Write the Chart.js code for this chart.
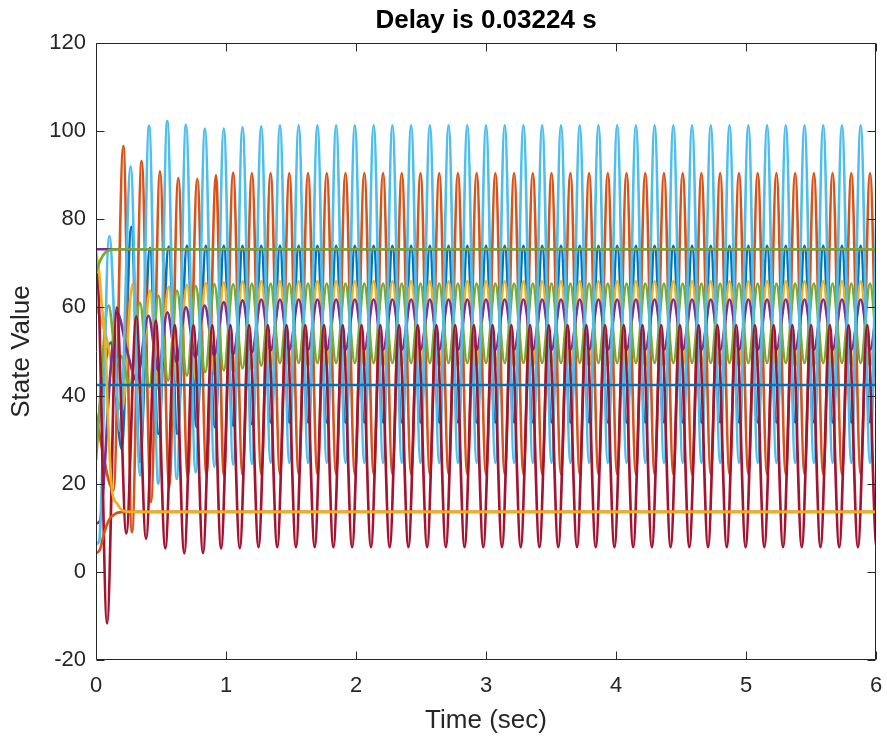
<!DOCTYPE html>
<html>
<head>
<meta charset="utf-8">
<style>
  html, body { margin: 0; padding: 0; background: #fff; }
</style>
</head>
<body>
<canvas id="chart" width="887" height="740"></canvas>
<script src="https://cdn.jsdelivr.net/npm/chart.js"></script>
<script>
// labels
const titleText = 'Delay is 0.03224 s';
const xTitle = 'Time (sec)';
const yTitle = 'State Value';
const xTicks = [0, 1, 2, 3, 4, 5, 6];
const yTicks = [-20, 0, 20, 40, 60, 80, 100, 120];

// times of the peaks / troughs once the oscillation has settled
const tA = [0.983,1.055,1.127,1.199,1.271,1.343,1.415,1.487,1.559,1.631,
  1.703,1.775,1.847,1.919,1.991,2.064,2.136,2.208,2.280,2.352,
  2.424,2.496,2.568,2.640,2.712,2.784,2.856,2.928,3.000,3.072,
  3.144,3.216,3.288,3.360,3.432,3.504,3.577,3.649,3.721,3.793,
  3.865,3.937,4.009,4.081,4.153,4.225,4.297,4.369,4.441,4.513,
  4.585,4.657,4.729,4.801,4.873,4.946,5.018,5.090,5.162,5.234,
  5.306,5.378,5.450,5.522,5.594,5.666,5.738,5.810,5.882,5.954,
  6.026,6.098];
// dark red runs a little ahead of the others
const tC = [0.962,1.034,1.106,1.178,1.250,1.322,1.394,1.466,1.538,1.610,
  1.682,1.754,1.826,1.898,1.970,2.043,2.115,2.187,2.259,2.331,
  2.403,2.475,2.547,2.619,2.691,2.763,2.835,2.907,2.979,3.051,
  3.123,3.195,3.267,3.339,3.411,3.483,3.556,3.628,3.700,3.772,
  3.844,3.916,3.988,4.060,4.132,4.204,4.276,4.348,4.420,4.492,
  4.564,4.636,4.708,4.780,4.852,4.925,4.997,5.069,5.141,5.213,
  5.285,5.357,5.429,5.501,5.573,5.645,5.717,5.789,5.861,5.933,
  6.005,6.077];

// start-up transients [t, value]
const x1Head = [[0,30.8],[0.115,52],[0.197,27.9],[0.272,78.3],[0.338,24.9],[0.415,73.5],[0.479,31.3],[0.56,73.8],[0.625,31.3],[0.70,74],[0.774,32.8],[0.845,74],[0.915,32.8]];
const x2Head = [[0,35],[0.135,18.5],[0.21,96.6],[0.277,9],[0.351,93.2],[0.423,15.8],[0.492,90.9],[0.563,19.2],[0.633,89.4],[0.706,21.4],[0.779,89.2],[0.85,21.9],[0.923,90]];
const x3Head = [[0,60.4],[0.08,53.2],[0.2,36.6],[0.282,65.3],[0.338,40.4],[0.415,63.8],[0.479,41.5],[0.56,64.7],[0.625,43],[0.70,65.1],[0.77,43.4],[0.845,65.5],[0.915,44.5]];
const x4Head = [[0,11],[0.03,11.5],[0.11,45],[0.162,58.9],[0.24,50],[0.313,43.4],[0.403,58.1],[0.48,45.7],[0.549,58.9],[0.62,47.6],[0.692,60],[0.765,48.7],[0.836,60.4],[0.91,49.1]];
const x5Head = [[0,25.3],[0.097,60.4],[0.16,47.6],[0.19,49],[0.26,42.3],[0.338,61.1],[0.41,41.9],[0.48,62.7],[0.555,43.4],[0.623,63.8],[0.70,44.5],[0.767,64.9],[0.84,45.3],[0.911,65.3]];
const x6Head = [[0,6.3],[0.025,7],[0.102,76.2],[0.185,32],[0.267,92],[0.338,21.9],[0.408,101.2],[0.479,20],[0.548,102.3],[0.621,21.1],[0.692,101.4],[0.766,22.6],[0.838,100.5],[0.91,23.8]];
const x7Head = [[0,67.8],[0.015,66],[0.085,-11.7],[0.16,60],[0.233,8.7],[0.31,58],[0.385,7.5],[0.46,57],[0.533,5.3],[0.606,56],[0.679,4.2],[0.75,56],[0.823,4.3],[0.895,56]];

// settled extremes, one value per entry of tA (x7 uses tC)
const x1 = [74.0,33.2,74.0,33.5,74.0,33.9,74.0,33.9,74.0,33.9,
  74.0,33.9,74.0,33.9,74.0,33.9,74.0,33.9,74.0,33.9,
  74.0,33.9,74.0,33.9,74.0,33.9,74.0,33.9,74.0,33.9,
  74.0,33.9,74.0,33.9,74.0,33.9,74.0,33.9,74.0,33.9,
  74.0,33.9,74.0,33.9,74.0,33.9,74.0,33.9,74.0,33.9,
  74.0,33.9,74.0,33.9,74.0,33.9,74.0,33.9,74.0,33.9,
  74.0,33.9,74.0,33.9,74.0,33.9,74.0,33.9,74.0,33.9,
  74.0,33.9];
const x2 = [21.9,90.6,22.0,90.5,22.2,90.5,22.2,90.5,22.2,90.5,
  22.2,90.5,22.2,90.5,22.2,90.5,22.2,90.5,22.2,90.5,
  22.2,90.5,22.2,90.5,22.2,90.5,22.2,90.5,22.2,90.5,
  22.2,90.5,22.2,90.5,22.2,90.5,22.2,90.5,22.2,90.5,
  22.2,90.5,22.2,90.5,22.2,90.5,22.2,90.5,22.2,90.5,
  22.2,90.5,22.2,90.5,22.2,90.5,22.2,90.5,22.2,90.5,
  22.2,90.5,22.2,90.5,22.2,90.5,22.2,90.5,22.2,90.5,
  22.2,90.5];
const x3 = [65.7,45.3,65.9,45.9,66.0,46.3,66.0,46.7,66.0,46.7,
  66.0,46.7,66.0,46.7,66.0,46.7,66.0,46.7,66.0,46.7,
  66.0,46.7,66.0,46.7,66.0,46.7,66.0,46.7,66.0,46.7,
  66.0,46.7,66.0,46.7,66.0,46.7,66.0,46.7,66.0,46.7,
  66.0,46.7,66.0,46.7,66.0,46.7,66.0,46.7,66.0,46.7,
  66.0,46.7,66.0,46.7,66.0,46.7,66.0,46.7,66.0,46.7,
  66.0,46.7,66.0,46.7,66.0,46.7,66.0,46.7,66.0,46.7,
  66.0,46.7];
const x4 = [61.2,49.4,61.6,49.8,61.8,50.2,61.8,50.4,61.8,50.4,
  61.8,50.4,61.8,50.4,61.8,50.4,61.8,50.4,61.8,50.4,
  61.8,50.4,61.8,50.4,61.8,50.4,61.8,50.4,61.8,50.4,
  61.8,50.4,61.8,50.4,61.8,50.4,61.8,50.4,61.8,50.4,
  61.8,50.4,61.8,50.4,61.8,50.4,61.8,50.4,61.8,50.4,
  61.8,50.4,61.8,50.4,61.8,50.4,61.8,50.4,61.8,50.4,
  61.8,50.4,61.8,50.4,61.8,50.4,61.8,50.4,61.8,50.4,
  61.8,50.4];
const x5 = [45.7,65.3,46.2,65.4,46.8,65.4,47.4,65.4,47.4,65.4,
  47.4,65.4,47.4,65.4,47.4,65.4,47.4,65.4,47.4,65.4,
  47.4,65.4,47.4,65.4,47.4,65.4,47.4,65.4,47.4,65.4,
  47.4,65.4,47.4,65.4,47.4,65.4,47.4,65.4,47.4,65.4,
  47.4,65.4,47.4,65.4,47.4,65.4,47.4,65.4,47.4,65.4,
  47.4,65.4,47.4,65.4,47.4,65.4,47.4,65.4,47.4,65.4,
  47.4,65.4,47.4,65.4,47.4,65.4,47.4,65.4,47.4,65.4,
  47.4,65.4];
const x6 = [100.6,24.3,100.9,24.5,101.1,24.7,101.3,24.7,101.3,24.7,
  101.3,24.7,101.3,24.7,101.3,24.7,101.3,24.7,101.3,24.7,
  101.3,24.7,101.3,24.7,101.3,24.7,101.3,24.7,101.3,24.7,
  101.3,24.7,101.3,24.7,101.3,24.7,101.3,24.7,101.3,24.7,
  101.3,24.7,101.3,24.7,101.3,24.7,101.3,24.7,101.3,24.7,
  101.3,24.7,101.3,24.7,101.3,24.7,101.3,24.7,101.3,24.7,
  101.3,24.7,101.3,24.7,101.3,24.7,101.3,24.7,101.3,24.7,
  101.3,24.7];
const x7 = [5.3,56,5.4,56,5.6,56,5.6,56,5.6,56,
  5.6,56,5.6,56,5.6,56,5.6,56,5.6,56,
  5.6,56,5.6,56,5.6,56,5.6,56,5.6,56,
  5.6,56,5.6,56,5.6,56,5.6,56,5.6,56,
  5.6,56,5.6,56,5.6,56,5.6,56,5.6,56,
  5.6,56,5.6,56,5.6,56,5.6,56,5.6,56,
  5.6,56,5.6,56,5.6,56,5.6,56,5.6,56,
  5.6,56];

// states that settle to a constant
const x8 = [[0,42.4],[6,42.4]];
const x9 = [[0,4.2],[0.03,5],[0.06,8.5],[0.1,11.8],[0.15,13.2],[0.22,13.6],[6,13.6]];
const x10 = [[0,72.8],[0.025,67.6],[0.046,60],[0.071,52.5],[0.095,33],[0.123,18.5],[0.162,15.5],[0.2,14],[0.26,13.6],[6,13.6]];
const x11 = [[0,73.2],[6,73.2]];
const x12 = [[0,67.9],[0.03,70.5],[0.07,72.4],[0.12,73.1],[0.2,73.2],[6,73.2]];

const colors = ['#0072BD','#D95319','#EDB120','#7E2F8E','#77AC30','#4DBEEE','#A2142F',
                '#0072BD','#D95319','#EDB120','#7E2F8E','#77AC30'];

function pairs(arr) { return arr.map(p => ({x: p[0], y: p[1]})); }
function series(head, t, v) { return pairs(head).concat(t.map((x, i) => ({x: x, y: v[i]}))); }

const allData = [
  series(x1Head, tA, x1), series(x2Head, tA, x2), series(x3Head, tA, x3),
  series(x4Head, tA, x4), series(x5Head, tA, x5), series(x6Head, tA, x6),
  series(x7Head, tC, x7),
  pairs(x8), pairs(x9), pairs(x10), pairs(x11), pairs(x12)
];

Chart.defaults.font.family = '"Liberation Sans", Arial, Helvetica, sans-serif';
Chart.defaults.color = '#262626';

const boxPlugin = {
  id: 'box',
  afterDatasetsDraw(chart) {
    const { ctx, chartArea: a, scales } = chart;
    const L = Math.round(a.left) + 0.5, R = Math.round(a.right) - 0.5;
    const T = Math.round(a.top) + 0.5, B = Math.round(a.bottom) - 0.5;
    ctx.save();
    ctx.strokeStyle = '#262626';
    ctx.lineWidth = 1;
    ctx.beginPath();
    ctx.rect(L, T, R - L, B - T);
    xTicks.forEach(v => {
      const px = Math.round(scales.x.getPixelForValue(v)) + 0.5;
      ctx.moveTo(px, B); ctx.lineTo(px, B - 8);
      ctx.moveTo(px, T); ctx.lineTo(px, T + 8);
    });
    yTicks.forEach(v => {
      const py = Math.round(scales.y.getPixelForValue(v)) + 0.5;
      ctx.moveTo(L, py); ctx.lineTo(L + 8, py);
      ctx.moveTo(R, py); ctx.lineTo(R - 8, py);
    });
    ctx.stroke();
    ctx.fillStyle = '#000';
    ctx.font = 'bold 26px "Liberation Sans", Arial, sans-serif';
    ctx.textAlign = 'center';
    ctx.textBaseline = 'middle';
    ctx.fillText(titleText, (a.left + a.right) / 2, 21);
    ctx.restore();
  }
};

new Chart(document.getElementById('chart'), {
  type: 'line',
  data: {
    datasets: allData.map((d, i) => ({
      label: 'x' + (i + 1),
      data: d,
      borderColor: colors[i],
      borderWidth: 2.7,
      pointRadius: 0,
      fill: false,
      cubicInterpolationMode: 'monotone',
      order: 20 - i
    }))
  },
  options: {
    responsive: false,
    animation: false,
    events: [],
    layout: { padding: { left: 0, right: 11, top: 43, bottom: 0 } },
    plugins: { legend: { display: false }, tooltip: { enabled: false }, title: { display: false } },
    scales: {
      x: {
        type: 'linear', min: 0, max: 6,
        afterBuildTicks: s => { s.ticks = xTicks.map(v => ({ value: v })); },
        afterFit: s => { s.height = 80; s.paddingLeft = 0; s.paddingRight = 0; },
        ticks: { font: { size: 22 }, padding: 13, maxRotation: 0 },
        grid: { display: false, drawTicks: false },
        border: { display: false },
        title: { display: true, text: xTitle, font: { size: 26 }, padding: { top: 0, bottom: 4 } }
      },
      y: {
        type: 'linear', min: -20, max: 120,
        afterBuildTicks: s => { s.ticks = yTicks.map(v => ({ value: v })); },
        afterFit: s => { s.width = 96; },
        ticks: { font: { size: 22 }, padding: 10 },
        grid: { display: false, drawTicks: false },
        border: { display: false },
        title: { display: true, text: yTitle, font: { size: 26 }, padding: { top: 6, bottom: 0 } }
      }
    }
  },
  plugins: [boxPlugin]
});
</script>
</body>
</html>
